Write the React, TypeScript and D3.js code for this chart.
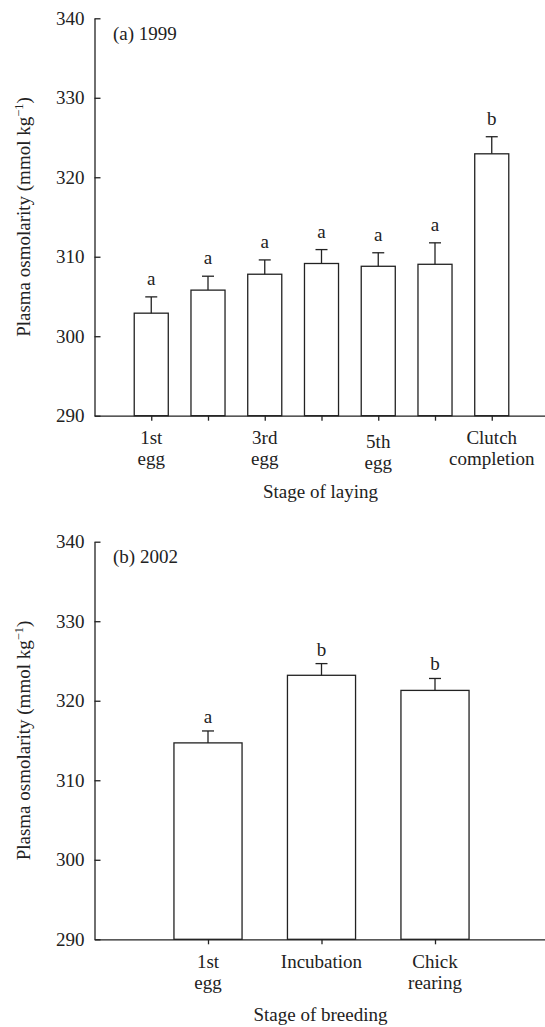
import React, { useEffect, useRef } from "react";
import * as d3 from "d3";

// Panel (a) 1999 — stage of laying
const categoriesA = ["1st egg", "2nd egg", "3rd egg", "4th egg", "5th egg", "6th egg", "Clutch completion"];
const tickLabelsA = [["1st", "egg"], [], ["3rd", "egg"], [], ["5th", "egg"], [], ["Clutch", "completion"]];
const meansA = [302.9, 305.8, 307.8, 309.15, 308.8, 309.05, 322.95];
const errorsA = [2.05, 1.75, 1.8, 1.75, 1.7, 2.7, 2.15];
const lettersA = ["a", "a", "a", "a", "a", "a", "b"];

// Panel (b) 2002 — stage of breeding
const categoriesB = ["1st egg", "Incubation", "Chick rearing"];
const tickLabelsB = [["1st", "egg"], ["Incubation"], ["Chick", "rearing"]];
const meansB = [314.7, 323.2, 321.3];
const errorsB = [1.5, 1.47, 1.5];
const lettersB = ["a", "b", "b"];

const yTicks = [290, 300, 310, 320, 330, 340];
const yDomain: [number, number] = [290, 340];

const INK = "#222";
const FONT = "'Liberation Serif', 'Times New Roman', serif";
const FS = 19;

type Panel = {
  title: string;
  xTitle: string;
  categories: string[];
  tickLabels: string[][];
  means: number[];
  errors: number[];
  letters: string[];
  yRange: [number, number];
  letterGap: number;
  labelShift: number[];
};

export default function App() {
  const ref = useRef<SVGSVGElement | null>(null);

  useEffect(() => {
    const svg = d3.select(ref.current);
    svg.selectAll("*").remove();

    const panels: Panel[] = [
      {
        title: "(a) 1999",
        xTitle: "Stage of laying",
        categories: categoriesA,
        tickLabels: tickLabelsA,
        means: meansA,
        errors: errorsA,
        letters: lettersA,
        yRange: [415.7, 18.3],
        letterGap: 12,
        labelShift: [0, 0, 0, 0, 3.5, 0, 0],
      },
      {
        title: "(b) 2002",
        xTitle: "Stage of breeding",
        categories: categoriesB,
        tickLabels: tickLabelsB,
        means: meansB,
        errors: errorsB,
        letters: lettersB,
        yRange: [939.3, 541.7],
        letterGap: 8,
        labelShift: [0, 0, 0],
      },
    ];

    const xLeft = 94.5;
    const xRight = 548.5;

    panels.forEach((p) => {
      const g = svg.append("g");
      const y = d3.scaleLinear().domain(yDomain).range(p.yRange);
      const x = d3.scalePoint<string>().domain(p.categories).range([xLeft, xRight]).padding(1);
      const bw = x.step() * 0.6;
      const base = y(yDomain[0]);

      // bars
      g.selectAll("rect.bar")
        .data(p.means)
        .join("rect")
        .attr("x", (_d, i) => (x(p.categories[i]) as number) - bw / 2)
        .attr("y", (d) => y(d))
        .attr("width", bw)
        .attr("height", (d) => base - y(d))
        .attr("fill", "#fff")
        .attr("stroke", INK)
        .attr("stroke-width", 1.3);

      // error bars (upper only)
      p.means.forEach((m, i) => {
        const cx = x(p.categories[i]) as number;
        const top = y(m + p.errors[i]);
        g.append("line")
          .attr("x1", cx).attr("x2", cx)
          .attr("y1", y(m)).attr("y2", top)
          .attr("stroke", INK).attr("stroke-width", 1.3);
        g.append("line")
          .attr("x1", cx - 6).attr("x2", cx + 6)
          .attr("y1", top).attr("y2", top)
          .attr("stroke", INK).attr("stroke-width", 1.3);
        g.append("text")
          .attr("x", cx)
          .attr("y", top - p.letterGap)
          .attr("text-anchor", "middle")
          .attr("font-family", FONT)
          .attr("font-size", FS)
          .attr("fill", INK)
          .text(p.letters[i]);
      });

      // y axis
      const yAxis = d3.axisLeft(y).tickValues(yTicks).tickSizeInner(-6).tickSizeOuter(0).tickPadding(10).tickFormat(d3.format("d"));
      const ya = g.append("g").attr("transform", `translate(${xLeft},0)`).call(yAxis);
      ya.select(".domain").attr("stroke", INK).attr("stroke-width", 1.3);
      ya.selectAll(".tick line").attr("stroke", INK).attr("stroke-width", 1.3);
      ya.selectAll(".tick text").attr("font-family", FONT).attr("font-size", FS).attr("fill", INK);

      // x axis
      const xAxis = d3.axisBottom(x).tickSizeInner(5).tickSizeOuter(0).tickFormat(() => "");
      const xa = g.append("g").attr("transform", `translate(0,${base})`).call(xAxis);
      xa.select(".domain").attr("stroke", INK).attr("stroke-width", 1.3);
      xa.selectAll(".tick line").attr("stroke", INK).attr("stroke-width", 1.3);

      // x tick labels (multi-line)
      p.tickLabels.forEach((lines, i) => {
        if (!lines.length) return;
        const t = g.append("text")
          .attr("x", x(p.categories[i]) as number)
          .attr("y", base + 28.5 + p.labelShift[i])
          .attr("text-anchor", "middle")
          .attr("font-family", FONT)
          .attr("font-size", FS)
          .attr("fill", INK);
        lines.forEach((ln, j) => {
          t.append("tspan")
            .attr("x", x(p.categories[i]) as number)
            .attr("dy", j === 0 ? 0 : 21)
            .text(ln);
        });
      });

      // x title
      g.append("text")
        .attr("x", 320.5)
        .attr("y", base + 82)
        .attr("text-anchor", "middle")
        .attr("font-family", FONT)
        .attr("font-size", FS)
        .attr("fill", INK)
        .text(p.xTitle);

      // panel title
      g.append("text")
        .attr("x", 113)
        .attr("y", y(340) + 21.5)
        .attr("font-family", FONT)
        .attr("font-size", FS)
        .attr("fill", INK)
        .text(p.title);

      // y title
      const cy = (p.yRange[0] + p.yRange[1]) / 2;
      const yt = g.append("text")
        .attr("transform", `translate(30,${cy}) rotate(-90)`)
        .attr("text-anchor", "middle")
        .attr("font-family", FONT)
        .attr("font-size", FS)
        .attr("fill", INK);
      yt.append("tspan").text("Plasma osmolarity (mmol kg");
      yt.append("tspan").attr("font-size", 12.5).attr("dy", -7).text("−1");
      yt.append("tspan").attr("dy", 7).text(")");
    });
  }, []);

  return (
    <svg
      ref={ref}
      width={545}
      height={1027}
      style={{ position: "absolute", left: 0, top: 0, background: "#fff" }}
    />
  );
}
